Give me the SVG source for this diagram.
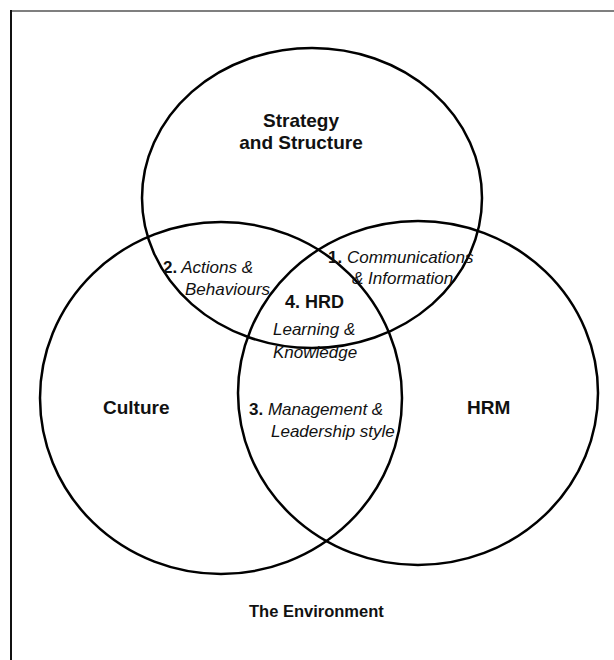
<svg xmlns="http://www.w3.org/2000/svg" width="614" height="660" viewBox="0 0 614 660">
<style>
.c{fill:none;stroke:#000;stroke-width:2.5}
.b{font-family:"Liberation Sans",Arial,sans-serif;font-weight:bold;font-size:19px;fill:#111}
.i{font-family:"Liberation Sans",Arial,sans-serif;font-style:italic;font-size:17px;fill:#111}
.n{font-style:normal;font-weight:bold}
</style>
<rect width="614" height="660" fill="#fff"/>
<g id="frame">
<line x1="11" y1="11" x2="614" y2="11" stroke="#555" stroke-width="1.6"/>
<line x1="11" y1="10" x2="11" y2="660" stroke="#111" stroke-width="2"/>
</g>
<g id="connectors"></g>
<g id="strategy">
<ellipse class="c" cx="312" cy="198" rx="170" ry="150"/>
<text class="b" x="301" y="127" text-anchor="middle">Strategy</text>
<text class="b" x="301" y="149" text-anchor="middle">and Structure</text>
</g>
<g id="culture">
<ellipse class="c" cx="221" cy="398" rx="181" ry="176"/>
<text class="b" x="103" y="414">Culture</text>
</g>
<g id="hrm">
<ellipse class="c" cx="418" cy="393" rx="180" ry="172"/>
<text class="b" x="467" y="414">HRM</text>
</g>
<g id="actions">
<text class="i" x="163" y="273"><tspan class="n">2.</tspan> Actions &amp;</text>
<text class="i" x="185" y="295">Behaviours</text>
</g>
<g id="communications">
<text class="i" x="328" y="263"><tspan class="n">1.</tspan> Communications</text>
<text class="i" x="352" y="284">&amp; Information</text>
</g>
<g id="hrd">
<text class="b" x="285" y="308" style="font-size:18px">4. HRD</text>
<text class="i" x="273" y="335">Learning &amp;</text>
<text class="i" x="273" y="358">Knowledge</text>
</g>
<g id="management">
<text class="i" x="249" y="415"><tspan class="n">3.</tspan> Management &amp;</text>
<text class="i" x="271" y="437">Leadership style</text>
</g>
<g id="environment">
<text class="b" x="249" y="617" style="font-size:16.5px">The Environment</text>
</g>
</svg>
